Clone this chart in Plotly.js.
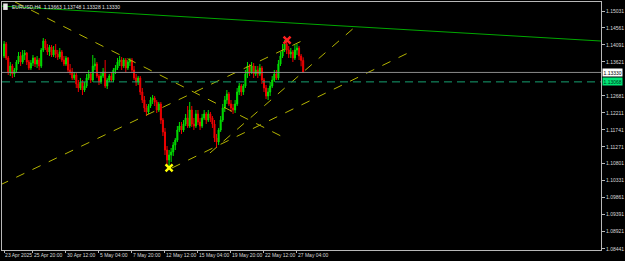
<!DOCTYPE html>
<html>
<head>
<meta charset="utf-8">
<script src="https://cdn.plot.ly/plotly-3.0.1.min.js"></script>
<style>
html,body{margin:0;padding:0;background:#000;}
#chart{width:625px;height:261px;}
</style>
</head>
<body>
<div id="chart"></div>
<script>
// ---- data (EURUSD H4, bar index 0 = first visible bar) ----
const openP  = [1.13785,1.14117,1.13730,1.13342,1.13508,1.13287,1.13397,1.13619,1.13785,1.13619,1.13813,1.13868,1.13619,1.13453,1.13591,1.13730,1.13563,1.13674,1.13508,1.13951,1.14200,1.14006,1.13896,1.14034,1.13813,1.13951,1.13840,1.13757,1.13896,1.13674,1.13563,1.13730,1.13397,1.13342,1.13176,1.13259,1.13010,1.12899,1.13065,1.12843,1.12954,1.13176,1.13287,1.13120,1.13508,1.13563,1.13231,1.13065,1.13231,1.13342,1.12954,1.13120,1.13231,1.13120,1.13397,1.13453,1.13619,1.13674,1.13508,1.13674,1.13453,1.13619,1.13674,1.13397,1.13176,1.13065,1.13176,1.12788,1.12566,1.12345,1.12234,1.12400,1.12566,1.12622,1.12511,1.12289,1.12456,1.12012,1.11680,1.11181,1.10904,1.11043,1.11126,1.11320,1.11458,1.11735,1.11846,1.11735,1.11902,1.12068,1.11846,1.12289,1.11902,1.11846,1.12179,1.11957,1.11846,1.12068,1.12179,1.12012,1.12179,1.12068,1.11902,1.11514,1.11403,1.11735,1.12012,1.12345,1.12566,1.12733,1.12456,1.12345,1.12289,1.12456,1.12788,1.12954,1.12788,1.12954,1.13287,1.13508,1.13342,1.13508,1.13287,1.13397,1.13287,1.13453,1.13120,1.12899,1.12677,1.12788,1.12954,1.13120,1.13287,1.13176,1.13563,1.13785,1.13951,1.14117,1.13951,1.13840,1.13896,1.13730,1.13951,1.14006,1.13785,1.13663];
const highP  = [1.14200,1.14173,1.13785,1.13619,1.13563,1.13453,1.13674,1.13896,1.13896,1.13951,1.13951,1.13896,1.13674,1.13674,1.13813,1.13757,1.13785,1.13730,1.14006,1.14283,1.14256,1.14117,1.14090,1.14090,1.14062,1.14117,1.13951,1.14006,1.13951,1.13785,1.13785,1.13757,1.13563,1.13453,1.13342,1.13314,1.13120,1.13176,1.13120,1.13065,1.13287,1.13397,1.13342,1.13813,1.13730,1.13619,1.13287,1.13342,1.13453,1.13674,1.13176,1.13287,1.13342,1.13453,1.13536,1.13730,1.13785,1.13757,1.13730,1.13730,1.13674,1.13730,1.13730,1.13508,1.13287,1.13231,1.13231,1.12899,1.12677,1.12456,1.12456,1.12650,1.12705,1.12677,1.12566,1.12511,1.12511,1.12068,1.11791,1.11292,1.11181,1.11237,1.11403,1.11514,1.11846,1.11957,1.11957,1.12012,1.12179,1.12400,1.12511,1.12400,1.12068,1.12289,1.12289,1.12068,1.12179,1.12289,1.12234,1.12289,1.12234,1.12123,1.12012,1.11625,1.11791,1.12123,1.12456,1.12677,1.12843,1.12788,1.12566,1.12456,1.12566,1.12899,1.13037,1.13010,1.13010,1.13397,1.13619,1.13563,1.13619,1.13591,1.13508,1.13508,1.13563,1.13508,1.13176,1.12982,1.12899,1.13065,1.13231,1.13397,1.13397,1.13674,1.13896,1.14117,1.14228,1.14256,1.14062,1.14006,1.13951,1.14090,1.14117,1.14062,1.13840,1.13748];
const lowP   = [1.13730,1.13674,1.13259,1.13231,1.13176,1.13204,1.13342,1.13563,1.13508,1.13563,1.13674,1.13536,1.13397,1.13397,1.13508,1.13480,1.13453,1.13397,1.13453,1.13896,1.13951,1.13813,1.13785,1.13757,1.13757,1.13730,1.13674,1.13702,1.13619,1.13508,1.13508,1.13314,1.13259,1.13120,1.13120,1.12899,1.12788,1.12843,1.12705,1.12788,1.12899,1.13120,1.13037,1.13065,1.13397,1.13176,1.12982,1.13010,1.13176,1.12899,1.12871,1.13065,1.13065,1.13065,1.13287,1.13397,1.13508,1.13397,1.13453,1.13342,1.13397,1.13508,1.13342,1.13120,1.12954,1.12982,1.12705,1.12483,1.12234,1.12123,1.12179,1.12345,1.12456,1.12400,1.12206,1.12234,1.11902,1.11569,1.11043,1.10766,1.10683,1.10849,1.11015,1.11181,1.11403,1.11680,1.11625,1.11680,1.11846,1.11791,1.11791,1.11819,1.11735,1.11791,1.11874,1.11735,1.11791,1.12012,1.11902,1.11957,1.11957,1.11791,1.11403,1.11237,1.11320,1.11680,1.11957,1.12234,1.12456,1.12400,1.12234,1.12179,1.12206,1.12400,1.12705,1.12677,1.12705,1.12899,1.13176,1.13231,1.13287,1.13176,1.13231,1.13176,1.13231,1.13010,1.12788,1.12594,1.12566,1.12677,1.12899,1.13065,1.13120,1.13120,1.13508,1.13730,1.13896,1.13840,1.13730,1.13730,1.13619,1.13674,1.13813,1.13674,1.13500,1.13328];
const closeP = [1.14117,1.13730,1.13342,1.13508,1.13287,1.13397,1.13619,1.13785,1.13619,1.13813,1.13868,1.13619,1.13453,1.13591,1.13730,1.13563,1.13674,1.13508,1.13951,1.14200,1.14006,1.13896,1.14034,1.13813,1.13951,1.13840,1.13757,1.13896,1.13674,1.13563,1.13730,1.13397,1.13342,1.13176,1.13259,1.13010,1.12899,1.13065,1.12843,1.12954,1.13176,1.13287,1.13120,1.13508,1.13563,1.13231,1.13065,1.13231,1.13342,1.12954,1.13120,1.13231,1.13120,1.13397,1.13453,1.13619,1.13674,1.13508,1.13674,1.13453,1.13619,1.13674,1.13397,1.13176,1.13065,1.13176,1.12788,1.12566,1.12345,1.12234,1.12400,1.12566,1.12622,1.12511,1.12289,1.12456,1.12012,1.11680,1.11181,1.10904,1.11043,1.11126,1.11320,1.11458,1.11735,1.11846,1.11735,1.11902,1.12068,1.11846,1.12289,1.11902,1.11846,1.12179,1.11957,1.11846,1.12068,1.12179,1.12012,1.12179,1.12068,1.11902,1.11514,1.11403,1.11735,1.12012,1.12345,1.12566,1.12733,1.12456,1.12345,1.12289,1.12456,1.12788,1.12954,1.12788,1.12954,1.13287,1.13508,1.13342,1.13508,1.13287,1.13397,1.13287,1.13453,1.13120,1.12899,1.12677,1.12788,1.12954,1.13120,1.13287,1.13176,1.13563,1.13785,1.13951,1.14117,1.13951,1.13840,1.13896,1.13730,1.13951,1.14006,1.13785,1.13663,1.13330];
const barIdx = openP.map((_, i) => i);

const dateTickIdx  = [0, 14, 30, 46, 62, 78, 94, 110, 126, 142];
const dateTickText = ["23 Apr 2025","25 Apr 20:00","30 Apr 12:00","5 May 04:00","7 May 20:00","12 May 12:00","15 May 04:00","19 May 20:00","22 May 12:00","27 May 04:00"];
const priceTicks = [1.15031,1.14561,1.14091,1.13621,1.12681,1.12211,1.11741,1.11271,1.10801,1.10331,1.09861,1.09391,1.08921,1.08441];

// trend lines drawn on the chart (bar index, price)
const lineA_x = [5.3, 135.2],  lineA_y = [1.15281, 1.11541];
const lineB_x = [-2.0, 147.3], lineB_y = [1.10211, 1.14283];
const lineC_x = [99.8, 170.1], lineC_y = [1.11098, 1.14588];
const lineD_x = [81.4, 196.8], lineD_y = [1.10683, 1.13896];
const lineG_x = [-2.0, 289.4], lineG_y = [1.15170, 1.14200];

const lowMark_x = [80],  lowMark_y = [1.10683];
const highMark_x = [137.2], highMark_y = [1.14228];

const bidPrice = 1.13330;
const levelPrice = 1.13068;
const titleText = "EURUSD,H4  1.13663 1.13748 1.13328 1.13330";

const FONT = "Liberation Sans, Arial, sans-serif";
const yl = (x, y, color, dash) => ({type:"scatter", mode:"lines", x:x, y:y, hoverinfo:"skip",
  line:{color:color, width:1, dash:dash}, showlegend:false});

const traces = [
  yl(lineG_x, lineG_y, "#00a800", "solid"),
  yl(lineA_x, lineA_y, "#b4b400", "dash"),
  yl(lineB_x, lineB_y, "#b4b400", "dash"),
  yl(lineC_x, lineC_y, "#b4b400", "dash"),
  yl(lineD_x, lineD_y, "#b4b400", "dash"),
  {type:"candlestick", x:barIdx, open:openP, high:highP, low:lowP, close:closeP,
   increasing:{line:{color:"#00e000", width:1}, fillcolor:"#00e000"},
   decreasing:{line:{color:"#f00000", width:1}, fillcolor:"#f00000"},
   whiskerwidth:0, hoverinfo:"skip", showlegend:false},
  {type:"scatter", mode:"markers", x:lowMark_x, y:lowMark_y, hoverinfo:"skip", showlegend:false,
   marker:{symbol:"x-thin", size:7, line:{color:"#ffff00", width:2.5}}},
  {type:"scatter", mode:"markers", x:highMark_x, y:highMark_y, hoverinfo:"skip", showlegend:false,
   marker:{symbol:"x-thin", size:7, line:{color:"#ff2020", width:2.5}}}
];

const layout = {
  width:625, height:261,
  paper_bgcolor:"#000000", plot_bgcolor:"#000000",
  margin:{l:2, r:24, t:2, b:11, pad:0},
  showlegend:false,
  font:{family:FONT, size:5, color:"#d8d8d8"},
  xaxis:{range:[-1.02, 289.4], showgrid:false, zeroline:false,
    showline:true, linecolor:"#b8b8b8", linewidth:1, mirror:true,
    ticks:"outside", ticklen:2, tickcolor:"#b8b8b8", tickangle:0,
    tickvals:dateTickIdx, ticktext:dateTickText, ticklabelposition:"outside right",
    tickfont:{family:FONT, size:5, color:"#d8d8d8"},
    rangeslider:{visible:false}, fixedrange:true},
  yaxis:{range:[1.08411, 1.15281], side:"right", showgrid:false, zeroline:false,
    showline:true, linecolor:"#b8b8b8", linewidth:1, mirror:true,
    ticks:"outside", ticklen:3, tickcolor:"#b8b8b8",
    tickvals:priceTicks, ticktext:priceTicks.map(v => v.toFixed(5)),
    tickfont:{family:FONT, size:5, color:"#d8d8d8"}, fixedrange:true},
  shapes:[
    {type:"line", xref:"paper", x0:0, x1:1, yref:"y", y0:bidPrice, y1:bidPrice,
     line:{color:"#8c8c8c", width:1}},
    {type:"line", xref:"paper", x0:0, x1:1, yref:"y", y0:levelPrice, y1:levelPrice,
     line:{color:"#16a070", width:1, dash:"8px,5px"}},
    {type:"rect", xref:"paper", yref:"paper", x0:0.002, x1:0.0095, y0:0.968, y1:0.994,
     fillcolor:"#e8e8e8", line:{width:0}}
  ],
  annotations:[
    {xref:"paper", yref:"paper", x:0.013, y:0.981, xanchor:"left", yanchor:"middle",
     text:titleText, showarrow:false, font:{family:FONT, size:5, color:"#e0e0e0"}},
    {xref:"paper", yref:"y", x:1.002, y:bidPrice, xanchor:"left", yanchor:"middle",
     text:bidPrice.toFixed(5), showarrow:false, bgcolor:"#ffffff", borderpad:0.5,
     font:{family:FONT, size:5, color:"#000000"}},
    {xref:"paper", yref:"y", x:1.002, y:levelPrice, xanchor:"left", yanchor:"middle",
     text:levelPrice.toFixed(5), showarrow:false, bgcolor:"#00e676", borderpad:0.5,
     font:{family:FONT, size:5, color:"#003018"}}
  ]
};

Plotly.newPlot("chart", traces, layout, {staticPlot:true, displayModeBar:false});
</script>
</body>
</html>
